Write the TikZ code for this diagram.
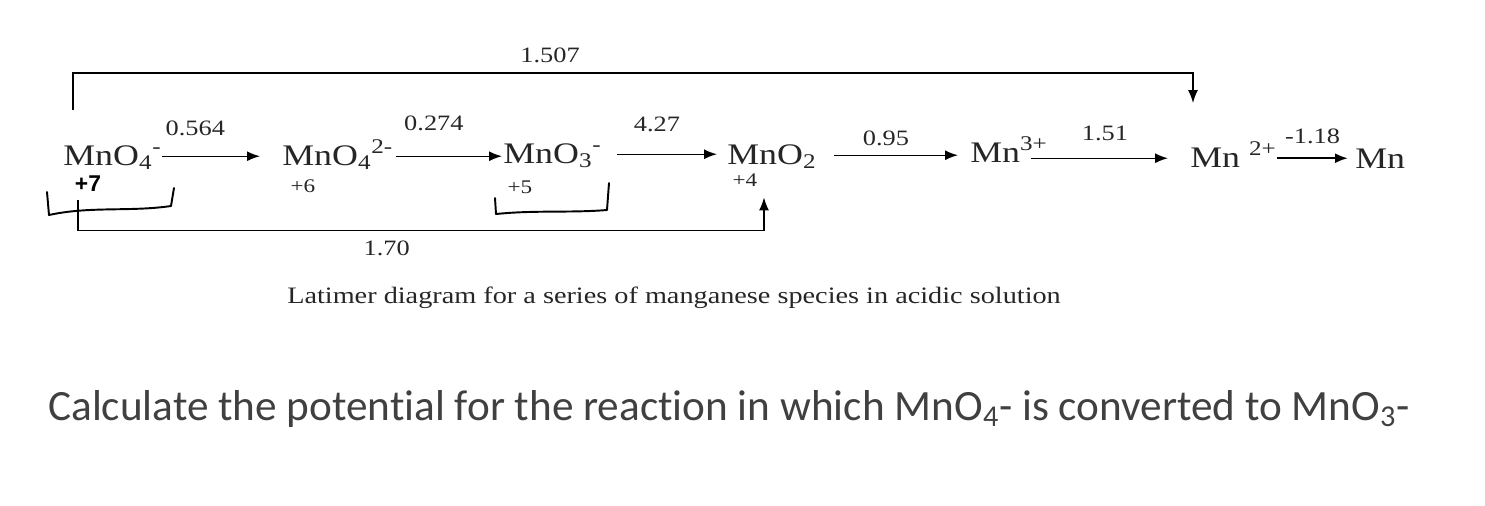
\documentclass[tikz,border=0pt]{standalone}
\usepackage{fontspec}
\setmainfont{Liberation Serif}
\newfontfamily\latfont[FakeStretch=1.2]{Liberation Serif}
\newfontfamily\handfont{Liberation Sans}
\newfontfamily\qfont[Ligatures=NoCommon]{Carlito}
\usepackage{tikz}
\usetikzlibrary{positioning,arrows.meta,calc}
\definecolor{inkgray}{HTML}{262626}
\definecolor{qgray}{HTML}{404040}

\begin{document}
\begin{tikzpicture}[
  x=0.02cm, y=-0.02cm,
  species/.style={inner sep=0, anchor=base west, text height=14pt, text depth=4pt, text=inkgray, font=\latfont\fontsize{17}{20}\selectfont},
  pot/.style={inner sep=0, text=inkgray, font=\latfont\fontsize{12.5}{15}\selectfont},
  ox/.style={inner sep=0, text=inkgray, font=\latfont\fontsize{11}{13}\selectfont},
  arr/.style={-{Latex[length=2.6mm, width=2mm]}, line width=0.8pt},
  hand/.style={line width=1.1pt, line join=round, line cap=round}
]
\useasboundingbox (0,0) rectangle (1485,505);
% species of the Latimer row
\node[species] (mnoa) at (63,165) {MnO\textsubscript{4}\textsuperscript{-}};
\node[species] (mnob) at (282,165) {MnO\textsubscript{4}\textsuperscript{2-}};
\node[species] (mnoc) at (503,163) {MnO\textsubscript{3}\textsuperscript{-}};
\node[species] (mnod) at (727,164) {MnO\textsubscript{2}};
\node[species] (mnthree) at (970,162) {Mn\textsuperscript{3+}};
\node[species] (mntwo) at (1190,167) {Mn \textsuperscript{2+}};
\node[species] (mnzero) at (1355,168) {Mn};
% oxidation states
\node[ox, font=\handfont\bfseries\fontsize{13}{15}\selectfont, text=black] (oxseven) at (88,184) {+7};
\node[ox] (oxsix) at (303,186) {+6};
\node[ox] (oxfive) at (520,187) {+5};
\node[ox] (oxfour) at (745,180) {+4};
% single steps
\draw[arr] (mnoa.east) -- ($(mnoa.east -| mnob.west)+(-22,0)$) node[pot, pos=0.34, above=11pt] (pa) {0.564};
\draw[arr] ($(mnob.east)+(2,0)$) -- ($(mnob.east -| mnoc.west)+(-1,0)$) node[pot, pos=0.36, above=14pt] (pb) {0.274};
\draw[arr] ($(mnoc.east)+(15,0)$) -- ($(mnoc.east -| mnod.west)+(-10,0)$) node[pot, pos=0.4, above=12.5pt] (pc) {4.27};
\draw[arr] ($(mnod.east)+(17,0)$) -- ($(mnod.east -| mnthree.west)+(-12,0)$) node[pot, pos=0.42, above=5pt] (pd) {0.95};
\draw[arr] ($(mnthree.east |- mntwo.west)+(-17,0)$) -- ($(mntwo.west)+(-22,0)$) node[pot, pos=0.54, above=9.5pt] (pe) {1.51};
\draw[arr, line width=1.3pt] (mntwo.east) -- ($(mntwo.east -| mnzero.west)+(-7,0)$) node[pot, pos=0.5, above=7.5pt] (pf) {-1.18};
% long jumps
\draw[arr] ($(mnoa.north west)+(10,-30)$) -- ++(0,-37) -| ($(mntwo.north west)+(3,-39)$) node[pot, pos=0.213, above=5.5pt] (pg) {1.507};
\draw[arr] ($(mnoa.south west)+(15,28)$) -- ++(0,30) -| ($(mnod.south west)+(37,26)$) node[pot, pos=0.225, below=5.5pt] (ph) {1.70};
% hand-drawn brackets
\draw[hand] (47,192) -- (49,215) .. controls (90,206) and (130,212) .. (171,206) -- (174,188);
\draw[hand] (495,198) -- (496,214) .. controls (535,210) and (570,213) .. (607,210) -- (609,183);
% caption and question
\node[font=\latfont\fontsize{13.4}{16}\selectfont, text=inkgray, inner sep=0, anchor=base] (caption) at (674,303)
  {Latimer diagram for a series of manganese species in acidic solution};
\node[font=\qfont\fontsize{24.6}{28}\selectfont, text=qgray, inner sep=0, anchor=base west] (question) at (48,420)
  {Calculate the potential for the reaction in which MnO\textsubscript{4}- is converted to MnO\textsubscript{3}-};
\end{tikzpicture}
\end{document}
